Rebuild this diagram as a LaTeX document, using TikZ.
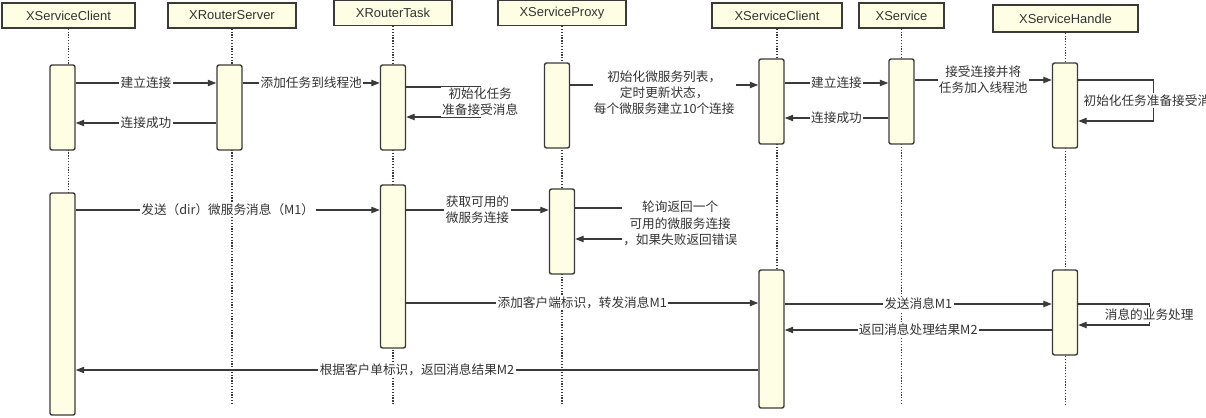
\documentclass[tikz,border=0pt]{standalone}
\usepackage{fontspec}
\setmainfont{Liberation Sans}
\newfontfamily\cjk{Noto Sans CJK SC}
\usetikzlibrary{arrows.meta}
\definecolor{linec}{HTML}{3A3A3A}
\definecolor{boxc}{HTML}{FEFEE4}
\definecolor{textc}{HTML}{333333}

\begin{document}
\begin{tikzpicture}[x=0.025cm, y=-0.025cm,
		head/.style={draw=linec, fill=boxc, line width=1pt, minimum height=0.625cm, text=textc, font=\fontsize{9.2}{11}\selectfont},
		act/.style={draw=linec, fill=boxc, rounded corners=1.5pt, line width=1pt, minimum width=0.625cm, inner sep=0pt},
		life/.style={draw=linec, line width=0.9pt, dash pattern=on 0.9pt off 1.1pt},
		msg/.style={-{Triangle[length=6pt,width=4.5pt]}, draw=linec, line width=0.8pt},
		ret/.style={-, draw=linec, line width=0.8pt},
		lbl/.style={fill=white, inner sep=1pt, text=textc, align=center, font=\cjk\fontsize{9}{11.5}\selectfont}]
				\useasboundingbox (0,0) rectangle (1206,417);
				\clip (0,0) rectangle (1206,417);

				% participants
				\node[head, minimum width=3.325cm] (hc) at (68.5,15.5) {XServiceClient};
				\node[head, minimum width=3.2cm] (hs) at (232,15.5) {XRouterServer};
				\node[head, minimum width=2.95cm] (ht) at (393,13) {XRouterTask};
				\node[head, minimum width=3.2cm] (hp) at (562,13) {XServiceProxy};
				\node[head, minimum width=3.25cm] (hd) at (777,15.5) {XServiceClient};
				\node[head, minimum width=2.125cm] (hx) at (901.5,15.5) {XService};
				\node[head, minimum width=3.625cm, minimum height=0.675cm] (hh) at (1065.5,18.5) {XServiceHandle};

				\draw[life] (hc.south) -- (hc.south |- 0,404);
				\draw[life] (hs.south) -- (hs.south |- 0,404);
				\draw[life] (ht.south) -- (ht.south |- 0,404);
				\draw[life] (hp.south) -- (hp.south |- 0,404);
				\draw[life] (hd.south) -- (hd.south |- 0,404);
				\draw[life] (hx.south) -- (hx.south |- 0,404);
				\draw[life] (hh.south) -- (hh.south |- 0,404);

				% activations
				\node[act, minimum height=2.125cm] (ca) at (62.5,107.5) {};
				\node[act, minimum height=5.55cm] (cb) at (62.5,304) {};
				\node[act, minimum height=2.125cm] (sa) at (229.5,107.5) {};
				\node[act, minimum height=2.125cm] (ta) at (393,107.5) {};
				\node[act, minimum height=4.075cm] (tb) at (393,266.5) {};
				\node[act, minimum height=2.125cm] (pa) at (557,105.5) {};
				\node[act, minimum height=2.125cm] (pb) at (562,231.5) {};
				\node[act, minimum height=2.125cm] (da) at (771.5,101.5) {};
				\node[act, minimum height=3.45cm] (db) at (771.5,339) {};
				\node[act, minimum height=2.125cm] (xa) at (901.5,101.5) {};
				\node[act, minimum height=2.125cm] (ha) at (1065,105.5) {};
				\node[act, minimum height=2.125cm] (hb) at (1065,312.5) {};

				% setup
				\draw[msg] (ca.east |- 0,83) to node[lbl]{建立连接} (sa.west |- 0,83);
				\draw[msg] (sa.west |- 0,123) to node[lbl]{连接成功} (ca.east |- 0,123);
				\draw[msg] (sa.east |- 0,83) to node[lbl]{添加任务到线程池} (ta.west |- 0,83);
				\draw[msg] (ta.east |- 0,87) -- ++(74,0) -- node[lbl]{初始化任务\\准备接受消息} ++(0,30) -- (ta.east |- 0,117);
				\draw[msg] (pa.east |- 0,85) to node[lbl, yshift=-5.5pt]{初始化微服务列表，\\定时更新状态，\\每个微服务建立10个连接} (da.west |- 0,85);
				\draw[msg] (da.east |- 0,83) to node[lbl]{建立连接} (xa.west |- 0,83);
				\draw[msg] (xa.west |- 0,118) to node[lbl]{连接成功} (da.east |- 0,118);
				\draw[msg] (xa.east |- 0,80) to node[lbl]{接受连接并将\\任务加入线程池} (ha.west |- 0,80);
				\draw[msg] (ha.east |- 0,80) -- ++(75,0) -- node[lbl]{初始化任务准备接受消息} ++(0,41) -- (ha.east |- 0,121);

				% request
				\draw[msg] (cb.east |- 0,210) to node[lbl]{发送（dir）微服务消息（M1）} (tb.west |- 0,210);
				\draw[msg] (tb.east |- 0,210) to node[lbl]{获取可用的\\微服务连接} (pb.west |- 0,210);
				\draw[msg] (pb.east |- 0,208) -- ++(105,0) -- node[lbl]{轮询返回一个\\可用的微服务连接\\，如果失败返回错误} ++(0,31) -- (pb.east |- 0,239);
				\draw[msg] (tb.east |- 0,303) to node[lbl]{添加客户端标识，转发消息M1} (db.west |- 0,303);
				\draw[msg] (db.east |- 0,304) to node[lbl]{发送消息M1} (hb.west |- 0,304);
				\draw[msg] (hb.east |- 0,304) -- ++(71,0) -- node[lbl]{消息的业务处理} ++(0,21) -- (hb.east |- 0,325);
				\draw[msg] (hb.west |- 0,330) to node[lbl]{返回消息处理结果M2} (db.east |- 0,330);
				\draw[msg] (db.west |- 0,370) to node[lbl]{根据客户单标识，返回消息结果M2} (cb.east |- 0,370);

			\end{tikzpicture}
\end{document}
